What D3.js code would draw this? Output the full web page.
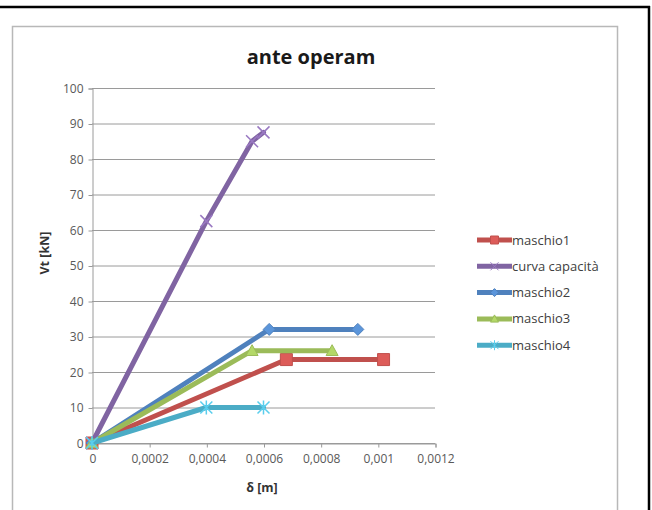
<!DOCTYPE html>
<html>
<head>
<meta charset="utf-8">
<script src="https://cdn.jsdelivr.net/npm/d3@7"></script>
<style>
  html, body { margin: 0; padding: 0; background: #fff; }
  svg { display: block; }
  text { font-family: "Open Sans", "Liberation Sans", sans-serif; }
</style>
</head>
<body>
<svg id="chart" width="652" height="510"></svg>
<script>
// Capacity curves: displacement δ [m] vs shear Vt [kN]
const seriesNames = ["maschio1", "curva capacità", "maschio2", "maschio3", "maschio4"];
const seriesColors = ["#C0504D", "#8064A2", "#4F81BD", "#9BBB59", "#4BACC6"];
const seriesMarkers = ["square", "cross", "diamond", "triangle", "star"];

const maschio1 = [[0, 0], [0.00068, 23.5], [0.00102, 23.5]];
const curvaCapacita = [[0, 0], [0.0004, 62.5], [0.00056, 85], [0.0006, 87.5]];
const maschio2 = [[0, 0], [0.00062, 32], [0.00093, 32]];
const maschio3 = [[0, 0], [0.00056, 26], [0.00084, 26]];
const maschio4 = [[0, 0], [0.0004, 10], [0.0006, 10]];
const seriesData = [maschio1, curvaCapacita, maschio2, maschio3, maschio4];

const xTicks = [0, 0.0002, 0.0004, 0.0006, 0.0008, 0.001, 0.0012];
const xTickLabels = ["0", "0,0002", "0,0004", "0,0006", "0,0008", "0,001", "0,0012"];
const yTicks = [0, 10, 20, 30, 40, 50, 60, 70, 80, 90, 100];

const svg = d3.select("#chart");

// outer black border (top and right)
svg.append("line").attr("x1", 0).attr("x2", 650).attr("y1", 7).attr("y2", 7)
  .attr("stroke", "#000").attr("stroke-width", 2.5);
svg.append("line").attr("x1", 649).attr("x2", 649).attr("y1", 6).attr("y2", 510)
  .attr("stroke", "#000").attr("stroke-width", 2.5);

// chart area frame
svg.append("rect").attr("x", 12.5).attr("y", 26.5).attr("width", 605).attr("height", 500)
  .attr("fill", "#fff").attr("stroke", "#b8b8b8").attr("stroke-width", 1.5);

const x = d3.scaleLinear().domain([0, 0.0012]).range([92, 435]);
const y = d3.scaleLinear().domain([0, 100]).range([443, 88]);

// title
svg.append("text").attr("x", 311).attr("y", 64).attr("text-anchor", "middle")
  .attr("font-size", 20).attr("font-weight", "bold").attr("fill", "#1a1a1a")
  .text("ante operam");

// gridlines
svg.append("g").selectAll("line").data(yTicks).join("line")
  .attr("x1", x(0)).attr("x2", x(0.0012))
  .attr("y1", d => y(d) + 0.5).attr("y2", d => y(d) + 0.5)
  .attr("stroke", "#9a9a9a").attr("stroke-width", 1);

// y axis
const yAxis = d3.axisLeft(y).tickValues(yTicks).tickSize(4).tickPadding(5);
const gy = svg.append("g").attr("transform", `translate(${x(0) + 0.5},0.5)`).call(yAxis);
gy.select(".domain").attr("stroke", "#9a9a9a");
gy.selectAll(".tick line").attr("stroke", "#9a9a9a");
gy.selectAll(".tick text").attr("font-size", 12).attr("fill", "#595959")
  .attr("font-family", "'Open Sans', sans-serif");

// x axis
const xAxis = d3.axisBottom(x).tickValues(xTicks)
  .tickFormat((d, i) => xTickLabels[i]).tickSize(4).tickPadding(7);
const gx = svg.append("g").attr("transform", `translate(0.5,${y(0) + 0.5})`).call(xAxis);
gx.select(".domain").attr("stroke", "#9a9a9a");
gx.selectAll(".tick line").attr("stroke", "#9a9a9a");
gx.selectAll(".tick text").attr("font-size", 12).attr("fill", "#595959")
  .attr("font-family", "'Open Sans', sans-serif");

// axis titles
svg.append("text").attr("x", 262).attr("y", 492).attr("text-anchor", "middle")
  .attr("font-size", 12.5).attr("font-weight", "bold").attr("fill", "#333")
  .text("δ [m]");
svg.append("text").attr("transform", "translate(49,253) rotate(-90)")
  .attr("text-anchor", "middle").attr("font-size", 12.5).attr("font-weight", "bold")
  .attr("fill", "#333").text("Vt [kN]");

// marker shapes
function markerPath(kind, size) {
  const s = size / 2;
  switch (kind) {
    case "square": return `M${-s},${-s}H${s}V${s}H${-s}Z`;
    case "diamond": return `M0,${-s}L${s},0L0,${s}L${-s},0Z`;
    case "triangle": return `M0,${-s}L${s},${s * 0.8}L${-s},${s * 0.8}Z`;
    case "cross": return `M${-s},${-s}L${s},${s}M${s},${-s}L${-s},${s}`;
    case "star": return `M${-s},${-s}L${s},${s}M${s},${-s}L${-s},${s}M0,${-s - 1}V${s + 1}`;
  }
}

const line = d3.line().x(d => x(d[0])).y(d => y(d[1]));

seriesData.forEach((data, i) => {
  const g = svg.append("g");
  g.append("path").datum(data).attr("d", line).attr("fill", "none")
    .attr("stroke", seriesColors[i]).attr("stroke-width", 5)
    .attr("stroke-linejoin", "round").attr("stroke-linecap", "round");
  const kind = seriesMarkers[i];
  const open = kind === "cross" || kind === "star";
  g.selectAll("path.m").data(data).join("path").attr("class", "m")
    .attr("transform", d => `translate(${x(d[0])},${y(d[1])})`)
    .attr("d", markerPath(kind, 12))
    .attr("fill", open ? "none" : d3.color(seriesColors[i]).brighter(0.4))
    .attr("stroke", open ? d3.color(seriesColors[i]).brighter(0.5) : seriesColors[i])
    .attr("stroke-width", open ? 1.5 : 1);
});

// legend
const legend = svg.append("g");
seriesNames.forEach((name, i) => {
  const ly = 240 + i * 26.3;
  legend.append("line").attr("x1", 477).attr("x2", 512).attr("y1", ly).attr("y2", ly)
    .attr("stroke", seriesColors[i]).attr("stroke-width", 5);
  const kind = seriesMarkers[i];
  const open = kind === "cross" || kind === "star";
  legend.append("path").attr("transform", `translate(494.5,${ly})`)
    .attr("d", markerPath(kind, 8))
    .attr("fill", open ? "none" : d3.color(seriesColors[i]).brighter(0.4))
    .attr("stroke", open ? d3.color(seriesColors[i]).brighter(0.5) : seriesColors[i])
    .attr("stroke-width", 1);
  legend.append("text").attr("x", 512).attr("y", ly + 4.5).attr("font-size", 13)
    .attr("fill", "#404040").text(name);
});
</script>
</body>
</html>
